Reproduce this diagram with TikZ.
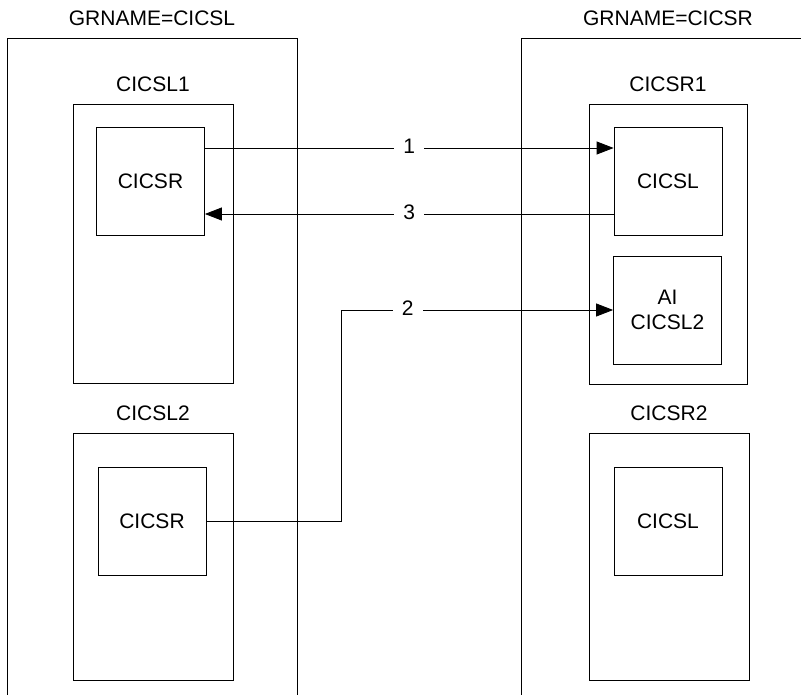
\documentclass[tikz,border=0pt]{standalone}
\usepackage{fontspec}
\setmainfont{Liberation Sans}
\usetikzlibrary{arrows.meta, positioning}

\tikzset{
	grpline/.style={line width=0.8pt},
	regionbox/.style={draw, line width=0.8pt, minimum width=160pt, inner sep=0pt},
	progbox/.style={draw, line width=0.8pt, minimum width=108pt, minimum height=108pt, inner sep=0pt, align=center},
	flow/.style={line width=0.8pt, -{Triangle[length=17pt, width=13pt]}},
	flowlabel/.style={fill=white, inner xsep=9pt, inner ysep=2pt, yshift=2pt}
}

\begin{document}
\begin{tikzpicture}[x=1pt, y=-1pt, font=\fontsize{21}{25}\selectfont,
		label distance=12pt, every label/.style={inner sep=0pt}]
		\useasboundingbox (0,0) rectangle (801,695);
		
		% GRNAME groups
		\draw[grpline] (7,695) -- (7,38) -- (297,38) -- (297,695);
		\draw[grpline] (521,695) -- (521,38) -- (801,38);
		\node[anchor=base] (grpl) at (152,26) {GRNAME=CICSL};
		\node[anchor=base] (grpr) at (668,26) {GRNAME=CICSR};
		
		% regions
		\node[regionbox, minimum height=279pt, label=above:CICSL1] (cicsl1) at (153,243.5) {};
		\node[regionbox, minimum height=247pt, label=above:CICSL2] (cicsl2) at (153,556.5) {};
		\node[regionbox, minimum width=158pt, minimum height=280pt, label=above:CICSR1] (cicsr1) at (668,244) {};
		\node[regionbox, minimum height=247pt, label=above:CICSR2] (cicsr2) at (669,556.5) {};
		
		% connections
		\node[progbox] (lr) at (150.5,181.5) {CICSR};
		\node[progbox] (ll) at (152,521) {CICSR};
		\node[progbox] (rl) at (668,181.5) {CICSL};
		\node[progbox] (al) at (667.5,310) {AI\\CICSL2};
		\node[progbox] (rr) at (668,521) {CICSL};
		
		% flows
		\draw[flow] (lr.east |- 0,148) -- node[flowlabel] {1} (rl.west |- 0,148);
		\draw[flow] (rl.west |- 0,214) -- node[flowlabel] {3} (lr.east |- 0,214);
		\coordinate (bend) at (341,310);
		\draw[flow] (ll.east) -| (bend) -- node[flowlabel, pos=0.245] {2} (al.west);
	\end{tikzpicture}
\end{document}
